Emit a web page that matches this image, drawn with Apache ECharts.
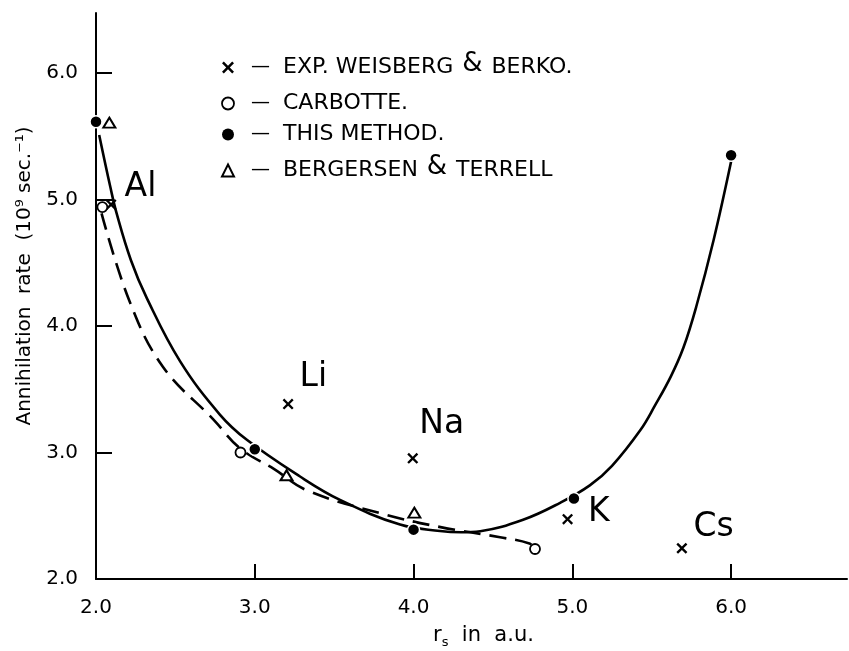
<!DOCTYPE html>
<html>
<head>
<meta charset="utf-8">
<script src="https://cdn.jsdelivr.net/npm/echarts@6/dist/echarts.min.js"></script>
<style>
  html, body { margin: 0; padding: 0; background: #fff; }
  #chart { width: 849px; height: 651px; }
</style>
</head>
<body>
<div id="chart"></div>
<script>
// values (r_s in a.u., annihilation rate in 10^9 / sec)
var expNames = ['Al', 'Li', 'Na', 'K', 'Cs'];
var expPoints = [[2.095, 4.96], [3.21, 3.383], [3.995, 2.954], [4.97, 2.473], [5.69, 2.243]];
var carbottePoints = [[2.04, 4.94], [2.91, 3.0], [4.765, 2.237]];
var methodPoints = [[2.0, 5.615], [3.0, 3.025], [4.0, 2.39], [5.01, 2.636], [6.0, 5.35]];
var bergersenPoints = [[2.084, 5.607], [3.2, 2.82], [4.005, 2.524]];

// hand drawn curves
var methodCurve = [
  [2.02, 5.51], [2.09, 5.10], [2.13, 4.89], [2.22, 4.52], [2.32, 4.22], [2.53, 3.72],
  [2.78, 3.30], [2.95, 3.10], [3.285, 2.81], [3.537, 2.625], [3.915, 2.43], [4.167, 2.38],
  [4.3, 2.37], [4.42, 2.378], [4.69, 2.468], [4.92, 2.60], [5.11, 2.74], [5.25, 2.895],
  [5.43, 3.18], [5.52, 3.37], [5.62, 3.60], [5.70, 3.83], [5.78, 4.15], [5.89, 4.68], [6.0, 5.3]
];
var carbotteCurve = [
  [2.035, 4.89], [2.21, 4.2], [2.42, 3.68], [2.74, 3.26], [2.91, 3.03], [3.12, 2.87],
  [3.33, 2.70], [3.79, 2.52], [4.17, 2.41], [4.545, 2.33], [4.73, 2.28], [4.765, 2.237]
];

var xTicks = [2, 3, 4, 5, 6];
var yTicks = [2, 3, 4, 5, 6];

var legendNames = ['EXP. WEISBERG & BERKO.', 'CARBOTTE.', 'THIS METHOD.', 'BERGERSEN & TERRELL'];

// label placement next to the crosses (pixels)
var labelOffsets = [[3, -17], [1, -27], [-4, -34], [10, -7], [1, -21]];

var FONT = 'DejaVu Sans';
var INK = '#000';
var crossPath = 'path://M0,1.5L1.5,0L5,3.5L8.5,0L10,1.5L6.5,5L10,8.5L8.5,10L5,6.5L1.5,10L0,8.5L3.5,5Z';

var chart = echarts.init(document.getElementById('chart'));

var option = {
  backgroundColor: '#fff',
  animation: false,
  grid: { left: 96, right: 2, top: 13, bottom: 72, containLabel: false, outerBoundsMode: 'none' },
  legend: {
    orient: 'vertical',
    left: 216,
    top: 46,
    itemWidth: 12,
    itemHeight: 12,
    itemGap: 8,
    selectedMode: false,
    formatter: function (name) {
      return '{d|—}' + name.replace('&', '{a|&}');
    },
    textStyle: {
      fontFamily: FONT,
      fontSize: 22,
      color: INK,
      lineHeight: 23,
      rich: {
        d: { fontFamily: FONT, fontSize: 19, lineHeight: 23, padding: [0, 13, 0, 12], color: INK },
        a: { fontFamily: FONT, fontSize: 26, lineHeight: 17, padding: [0, 2, 7, 2], color: INK }
      }
    },
    data: [
      { name: legendNames[0], icon: crossPath, itemStyle: { color: INK, borderWidth: 0, opacity: 1 } },
      { name: legendNames[1], icon: 'circle', itemStyle: { color: '#fff', borderColor: INK, borderWidth: 1.8, opacity: 1 } },
      { name: legendNames[2], icon: 'circle', itemStyle: { color: INK, borderWidth: 0, opacity: 1 } },
      { name: legendNames[3], icon: 'triangle', itemStyle: { color: '#fff', borderColor: INK, borderWidth: 2, opacity: 1 } }
    ]
  },
  xAxis: {
    type: 'value',
    min: 2,
    max: 6.73,
    name: '{r|r}{s|s}{r|  in  a.u.}',
    nameLocation: 'middle',
    nameGap: 44,
    nameTextStyle: {
      padding: [0, 0, 0, 24],
      rich: {
        r: { fontFamily: FONT, fontSize: 21, color: INK, lineHeight: 26 },
        s: { fontFamily: FONT, fontSize: 13, color: INK, lineHeight: 26, padding: [13, 0, 0, 0] }
      }
    },
    splitLine: { show: false },
    axisLine: { show: true, onZero: false, lineStyle: { color: INK, width: 2 } },
    axisTick: { show: true, inside: true, length: 15, customValues: xTicks, lineStyle: { color: INK, width: 2 } },
    axisLabel: {
      customValues: xTicks,
      margin: 19,
      fontFamily: FONT,
      fontSize: 20,
      color: INK,
      formatter: function (v) { return v.toFixed(1); }
    }
  },
  yAxis: {
    type: 'value',
    min: 2,
    max: 6.474,
    name: 'Annihilation  rate  (10⁹ sec.⁻¹)',
    nameLocation: 'middle',
    nameRotate: 90,
    nameGap: 51,
    nameTextStyle: {
      fontFamily: FONT,
      fontSize: 20,
      color: INK,
      padding: [0, 0, 0, 40]
    },
    splitLine: { show: false },
    axisLine: { show: true, onZero: false, lineStyle: { color: INK, width: 2 } },
    axisTick: { show: true, inside: true, length: 16, customValues: yTicks, lineStyle: { color: INK, width: 2 } },
    axisLabel: {
      customValues: yTicks,
      margin: 18,
      fontFamily: FONT,
      fontSize: 20,
      color: INK,
      formatter: function (v) { return v.toFixed(1); }
    }
  },
  series: [
    {
      name: 'method-curve',
      type: 'line',
      data: methodCurve,
      smooth: 0.4,
      showSymbol: false,
      symbol: 'none',
      clip: false,
      lineStyle: { color: INK, width: 2.6 },
      z: 2
    },
    {
      name: 'carbotte-curve',
      type: 'line',
      data: carbotteCurve,
      smooth: 0.4,
      showSymbol: false,
      symbol: 'none',
      clip: false,
      lineStyle: { color: INK, width: 2.6, type: [17, 9] },
      z: 2
    },
    {
      name: legendNames[0],
      type: 'scatter',
      data: expPoints.map(function (p, i) {
        return { value: p, name: expNames[i], label: { offset: labelOffsets[i] } };
      }),
      symbol: crossPath,
      symbolSize: 11,
      clip: false,
      itemStyle: { color: INK, opacity: 1 },
      label: {
        show: true,
        position: 'right',
        formatter: function (p) { return p.name; },
        fontFamily: FONT,
        fontSize: 33,
        color: INK,
        opacity: 1
      },
      z: 5
    },
    {
      name: legendNames[1],
      type: 'scatter',
      data: carbottePoints,
      symbol: 'circle',
      symbolSize: 10,
      clip: false,
      itemStyle: { color: '#fff', borderColor: INK, borderWidth: 1.8, opacity: 1 },
      z: 5
    },
    {
      name: legendNames[2],
      type: 'scatter',
      data: methodPoints,
      symbol: 'circle',
      symbolSize: 12,
      clip: false,
      itemStyle: { color: INK, borderColor: '#fff', borderWidth: 1.5, opacity: 1 },
      z: 5
    },
    {
      name: legendNames[3],
      type: 'scatter',
      data: bergersenPoints,
      symbol: 'triangle',
      symbolSize: [12, 10],
      clip: false,
      itemStyle: { color: '#fff', borderColor: INK, borderWidth: 2, opacity: 1 },
      z: 5
    }
  ]
};

chart.setOption(option);
</script>
</body>
</html>
